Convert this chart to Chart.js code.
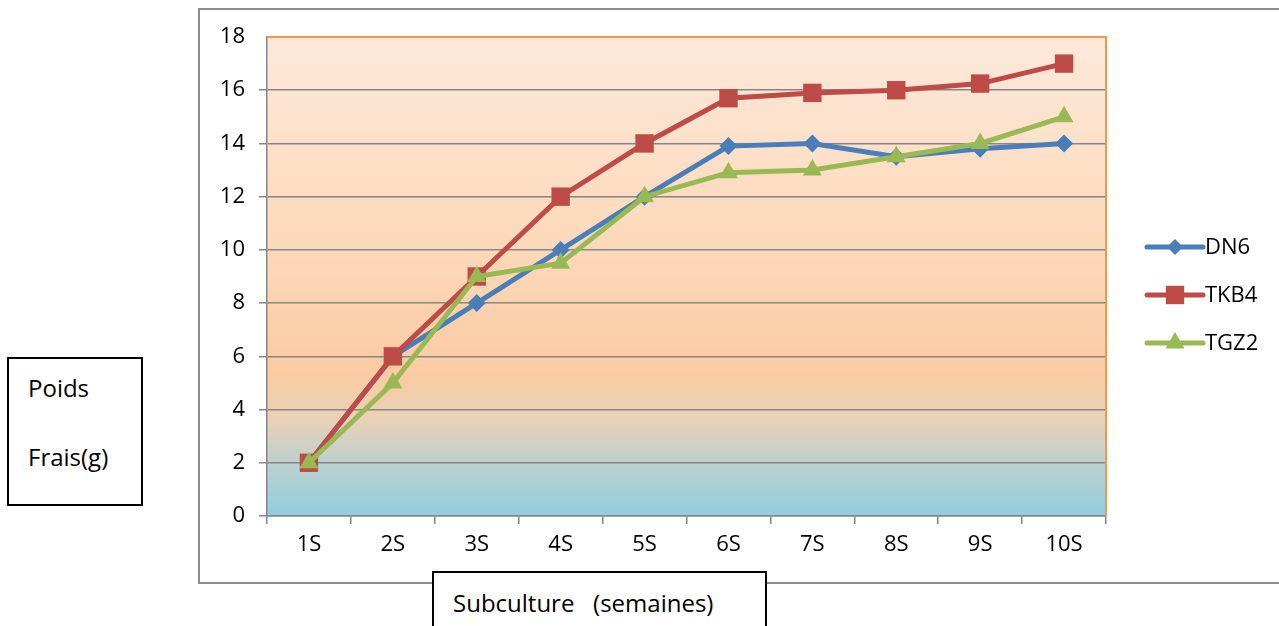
<!DOCTYPE html>
<html>
<head>
<meta charset="utf-8">
<script src="https://cdn.jsdelivr.net/npm/chart.js@4/dist/chart.umd.min.js"></script>
<style>
  body { margin: 0; background: #fff; font-family: "Open Sans", sans-serif; }
  #frame { position: absolute; left: 198px; top: 8px; width: 1200px; height: 572px;
           border-left: 2px solid #8c8c8c; border-top: 2px solid #8c8c8c; border-bottom: 2px solid #8c8c8c; }
  #wrap { position: absolute; left: 0; top: 0; width: 1279px; height: 626px; }
  .box { position: absolute; background: #fff; border: 2px solid #000; font-size: 24px; color: #000; }
  .box span { position: absolute; white-space: pre; line-height: 28px; }
</style>
</head>
<body>
<div id="frame"></div>
<div id="wrap"><canvas id="growthChart" width="1279" height="626"></canvas></div>
<div class="box" style="left:7px; top:357px; width:132px; height:145px;">
  <span style="left:19px; top:15px;">Poids</span>
  <span style="left:19px; top:84px;">Frais(g)</span>
</div>
<div class="box" style="left:432px; top:571px; width:331px; height:90px;">
  <span style="left:19px; top:16px;">Subculture   (semaines)</span>
</div>
<script>
// Data
const subcultures = ['1S', '2S', '3S', '4S', '5S', '6S', '7S', '8S', '9S', '10S'];
const dn6Data  = [2, 6, 8, 10, 12, 13.9, 14, 13.5, 13.8, 14];
const tkb4Data = [2, 6, 9, 12, 14, 15.7, 15.9, 16, 16.25, 17];
const tgz2Data = [2, 5, 9, 9.5, 12, 12.9, 13, 13.5, 14, 15];
const yTicks = [0, 2, 4, 6, 8, 10, 12, 14, 16, 18];

Chart.defaults.font.family = '"Open Sans", sans-serif';
Chart.defaults.color = '#000';

function drawMarker(ctx, style, x, y, r, color) {
    ctx.save();
    ctx.fillStyle = color;
    ctx.beginPath();
    if (style === 'rectRot') {
        ctx.moveTo(x, y - r); ctx.lineTo(x + r, y); ctx.lineTo(x, y + r); ctx.lineTo(x - r, y);
    } else if (style === 'rect') {
        const s = r * Math.SQRT1_2;
        ctx.rect(x - s, y - s, 2 * s, 2 * s);
    } else {
        ctx.moveTo(x, y - r);
        ctx.lineTo(x + r * 0.866, y + r / 2);
        ctx.lineTo(x - r * 0.866, y + r / 2);
    }
    ctx.closePath();
    ctx.fill();
    ctx.restore();
}

// gradient plot background + orange plot border
const plotBackground = {
    id: 'plotBackground',
    beforeDraw(chart) {
        const { ctx, chartArea: a } = chart;
        const g = ctx.createLinearGradient(0, a.top, 0, a.bottom);
        g.addColorStop(0, '#fde9da');
        g.addColorStop(0.45, '#fcd8b9');
        g.addColorStop(0.7, '#fbcba2');
        g.addColorStop(0.8, '#e8d1b7');
        g.addColorStop(0.9, '#b9d0d2');
        g.addColorStop(1, '#92cddd');
        ctx.save();
        ctx.fillStyle = g;
        ctx.fillRect(a.left, a.top, a.right - a.left, a.bottom - a.top);
        ctx.restore();
    },
    beforeDatasetsDraw(chart) {
        const { ctx, chartArea: a } = chart;
        ctx.save();
        ctx.strokeStyle = '#f79646';
        ctx.lineWidth = 2;
        ctx.beginPath();
        ctx.moveTo(a.left, a.top);
        ctx.lineTo(a.right, a.top);
        ctx.lineTo(a.right, a.bottom);
        ctx.stroke();
        ctx.restore();
    }
};

// legend drawn as line + marker, like the original
const sideLegend = {
    id: 'sideLegend',
    afterDraw(chart) {
        const ctx = chart.ctx;
        const x0 = 1147, x1 = 1203;
        chart.data.datasets.forEach((ds, i) => {
            const y = 247 + i * 48;
            ctx.save();
            ctx.strokeStyle = ds.borderColor;
            ctx.lineWidth = 5;
            ctx.lineCap = 'round';
            ctx.beginPath();
            ctx.moveTo(x0, y);
            ctx.lineTo(x1, y);
            ctx.stroke();
            ctx.restore();
            drawMarker(ctx, ds.pointStyle, (x0 + x1) / 2, y, ds.legendRadius, ds.borderColor);
            ctx.save();
            ctx.fillStyle = '#000';
            ctx.font = '22px "Open Sans", sans-serif';
            ctx.textBaseline = 'middle';
            ctx.fillText(ds.label, x1 + 2, y + 1);
            ctx.restore();
        });
    }
};

const ctx = document.getElementById('growthChart').getContext('2d');
const growthChart = new Chart(ctx, {
    type: 'line',
    data: {
        labels: subcultures,
        datasets: [
            {
                label: 'DN6',
                data: dn6Data,
                borderColor: '#4a7ebb',
                backgroundColor: '#4a7ebb',
                borderWidth: 5,
                pointStyle: 'rectRot',
                pointRadius: 9,
                pointBorderWidth: 0,
                legendRadius: 8,
                tension: 0,
                order: 3
            },
            {
                label: 'TKB4',
                data: tkb4Data,
                borderColor: '#be4b48',
                backgroundColor: '#be4b48',
                borderWidth: 5,
                pointStyle: 'rect',
                pointRadius: 13,
                pointBorderWidth: 0,
                legendRadius: 13,
                tension: 0,
                order: 2
            },
            {
                label: 'TGZ2',
                data: tgz2Data,
                borderColor: '#98b954',
                backgroundColor: '#98b954',
                borderWidth: 5,
                pointStyle: 'triangle',
                pointRadius: 11,
                pointBorderWidth: 0,
                legendRadius: 11,
                tension: 0,
                order: 1
            }
        ]
    },
    options: {
        responsive: false,
        animation: false,
        layout: {
            padding: { left: 200, top: 37, right: 173, bottom: 0 }
        },
        plugins: {
            legend: { display: false },
            tooltip: { enabled: false }
        },
        scales: {
            x: {
                offset: true,
                afterFit(scale) { scale.height = 110; },
                grid: {
                    offset: true,
                    drawOnChartArea: false,
                    tickLength: 8,
                    color: '#868686',
                    lineWidth: 1.5
                },
                border: { color: '#868686', width: 1.5 },
                ticks: { padding: 8, font: { size: 22 }, maxRotation: 0 }
            },
            y: {
                min: 0,
                max: 18,
                afterFit(scale) { scale.width = 67; },
                afterBuildTicks(scale) { scale.ticks = yTicks.map(v => ({ value: v })); },
                grid: {
                    color: (c) => c.tick && c.tick.value === 18 ? 'rgba(0,0,0,0)' : '#868686',
                    lineWidth: 1.5,
                    tickLength: 8
                },
                border: { color: '#868686', width: 1.5 },
                ticks: { padding: 14, font: { size: 22 } }
            }
        }
    },
    plugins: [plotBackground, sideLegend]
});
</script>
</body>
</html>
